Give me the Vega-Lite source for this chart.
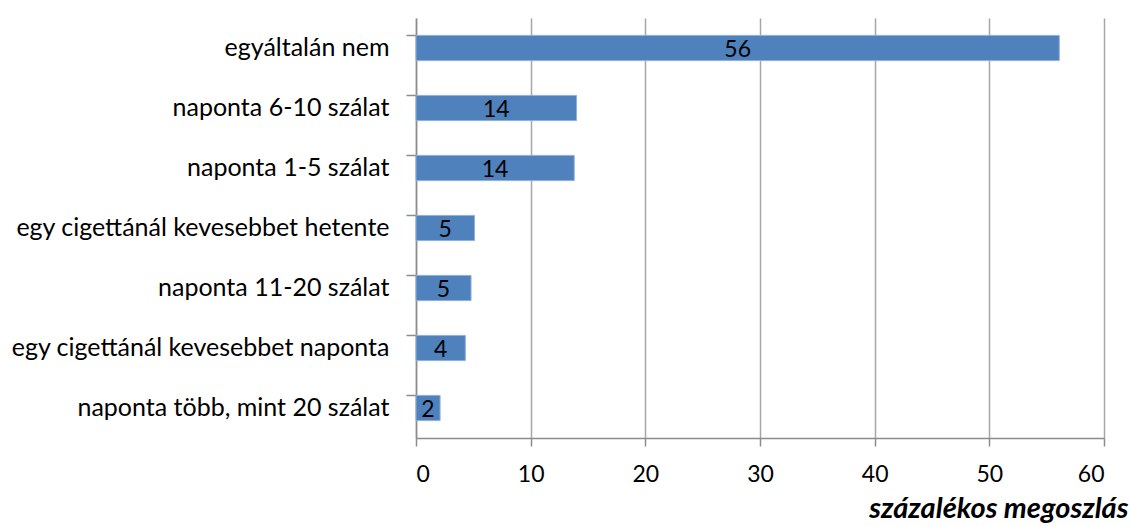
{
  "$schema": "https://vega.github.io/schema/vega-lite/v6.json",
  "autosize": {"type": "none"},
  "width": 688,
  "height": 420,
  "padding": {"left": 416, "top": 18, "right": 26, "bottom": 88},
  "background": "white",
  "config": {
    "view": {"stroke": null},
    "font": "Lato",
    "axis": {"labelFont": "Lato", "titleFont": "Lato"}
  },
  "data": {
    "values": [
      {"kategoria": "egyáltalán nem", "ertek": 56.1},
      {"kategoria": "naponta 6-10 szálat", "ertek": 14.0},
      {"kategoria": "naponta 1-5 szálat", "ertek": 13.8},
      {"kategoria": "egy cigettánál kevesebbet hetente", "ertek": 5.1},
      {"kategoria": "naponta 11-20 szálat", "ertek": 4.8},
      {"kategoria": "egy cigettánál kevesebbet naponta", "ertek": 4.3},
      {"kategoria": "naponta több, mint 20 szálat", "ertek": 2.1}
    ]
  },
  "encoding": {
    "y": {
      "field": "kategoria",
      "type": "nominal",
      "sort": null,
      "scale": {"paddingInner": 0.58, "paddingOuter": 0.29},
      "axis": {
        "title": null,
        "labelFontSize": 25,
        "labelColor": "#000000",
        "labelPadding": 17,
        "labelLimit": 420,
        "tickSize": 10,
        "tickColor": "#8c8c8c",
        "tickWidth": 1.5,
        "bandPosition": 0,
        "domainColor": "#8c8c8c",
        "domainWidth": 1.5,
        "grid": false
      }
    },
    "x": {
      "field": "ertek",
      "type": "quantitative",
      "scale": {"domain": [0, 60], "nice": false},
      "axis": {
        "values": [0, 10, 20, 30, 40, 50, 60],
        "title": "százalékos megoszlás",
        "titleFontSize": 29,
        "titleFontWeight": "bold",
        "titleFontStyle": "italic",
        "titleColor": "#000000",
        "titleAlign": "right",
        "titleAnchor": null,
        "titleX": 712,
        "titleY": 79,
        "titleBaseline": "alphabetic",
        "labelFontSize": 23,
        "labelColor": "#000000",
        "labelPadding": 17,
        "tickSize": 8,
        "tickColor": "#8c8c8c",
        "tickWidth": 1.5,
        "domainColor": "#8c8c8c",
        "domainWidth": 1.5,
        "grid": true,
        "gridColor": "#a6a6a6",
        "gridWidth": 1.5
      }
    }
  },
  "layer": [
    {
      "mark": {"type": "bar", "color": "#4F81BD", "stroke": "#8eb0da", "strokeWidth": 1}
    },
    {
      "mark": {"type": "text", "fontSize": 23, "color": "#000000", "baseline": "middle", "align": "center", "dy": 2},
      "encoding": {
        "x": {"value": {"expr": "scale('x', datum.ertek / 2)"}},
        "text": {"field": "ertek", "type": "quantitative", "format": ".0f"}
      }
    }
  ]
}
